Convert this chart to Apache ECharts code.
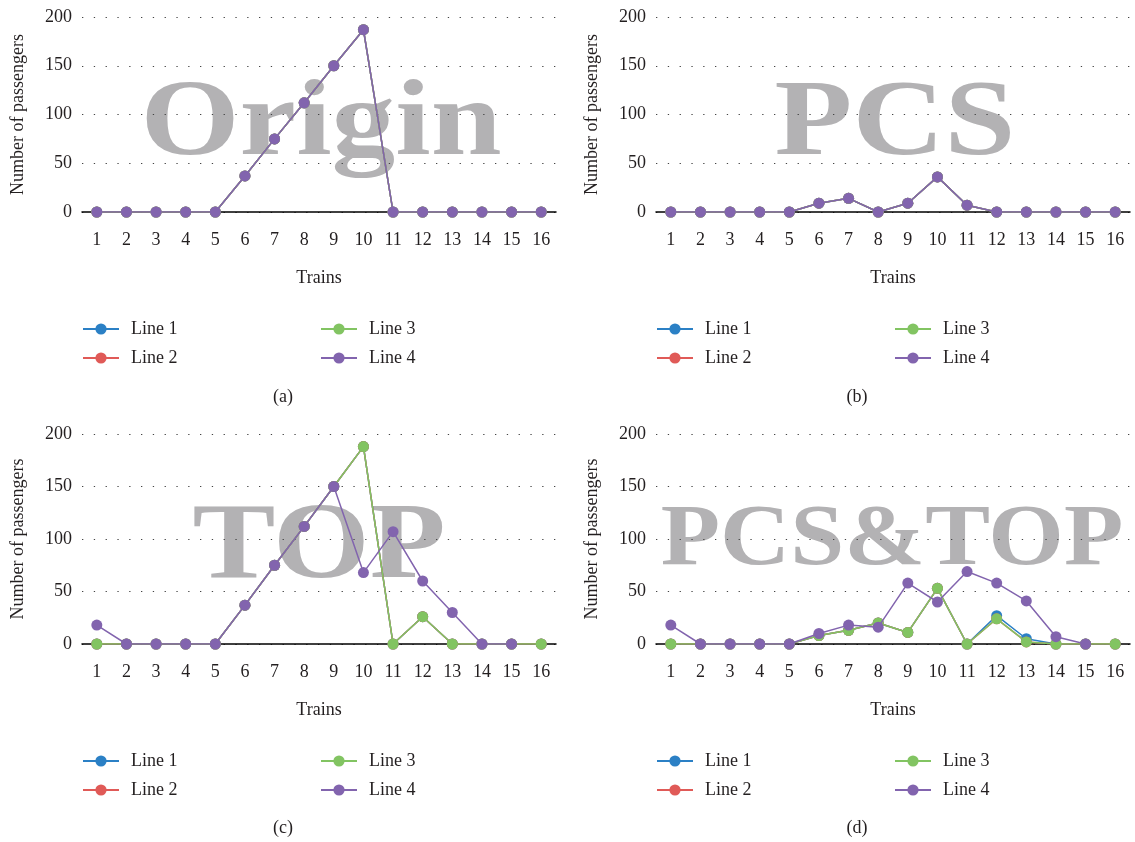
<!DOCTYPE html>
<html>
<head>
<meta charset="utf-8">
<script src="https://cdn.jsdelivr.net/npm/echarts@6/dist/echarts.min.js"></script>
<style>html,body{margin:0;padding:0;background:#fff;}#c{width:1135px;height:842px;}</style>
</head>
<body>
<div id="c"></div>
<script>
// ---- data ----
const categories = ['1','2','3','4','5','6','7','8','9','10','11','12','13','14','15','16'];
const seriesNames = ['Line 1','Line 2','Line 3','Line 4'];
const yTicks = [0, 50, 100, 150, 200];

// (a) Origin
const originLine1 = [0,0,0,0,0,37,75,112,150,187,0,0,0,0,0,0];
const originLine2 = [0,0,0,0,0,37,75,112,150,187,0,0,0,0,0,0];
const originLine3 = [0,0,0,0,0,37,75,112,150,187,0,0,0,0,0,0];
const originLine4 = [0,0,0,0,0,37,75,112,150,187,0,0,0,0,0,0];
// (b) PCS
const pcsLine1 = [0,0,0,0,0,9,14,0,9,36,7,0,0,0,0,0];
const pcsLine2 = [0,0,0,0,0,9,14,0,9,36,7,0,0,0,0,0];
const pcsLine3 = [0,0,0,0,0,9,14,0,9,36,7,0,0,0,0,0];
const pcsLine4 = [0,0,0,0,0,9,14,0,9,36,7,0,0,0,0,0];
// (c) TOP
const topLine1 = [0,0,0,0,0,37,75,112,150,188,0,26,0,0,0,0];
const topLine2 = [0,0,0,0,0,37,75,112,150,188,0,26,0,0,0,0];
const topLine3 = [0,0,0,0,0,37,75,112,150,188,0,26,0,0,0,0];
const topLine4 = [18,0,0,0,0,37,75,112,150,68,107,60,30,0,0,null];
// (d) PCS&TOP
const bothLine1 = [0,0,0,0,0,8,13,20,11,53,0,27,5,0,0,0];
const bothLine2 = [0,0,0,0,0,8,13,20,11,53,0,24,2,0,0,0];
const bothLine3 = [0,0,0,0,0,8,13,20,11,53,0,24,2,0,0,0];
const bothLine4 = [18,0,0,0,0,10,18,16,58,40,69,58,41,7,0,null];

const panelTitles = ['Origin','PCS','TOP','PCS&TOP'];
const captions = ['(a)','(b)','(c)','(d)'];
const panelData = [
  [originLine1, originLine2, originLine3, originLine4],
  [pcsLine1, pcsLine2, pcsLine3, pcsLine4],
  [topLine1, topLine2, topLine3, topLine4],
  [bothLine1, bothLine2, bothLine3, bothLine4]
];

// ---- styling / layout ----
const colors = ['#2b80c5', '#e05a57', '#82c462', '#8264ae'];
const serif = '"Liberation Serif", "Times New Roman", serif';
const textColor = '#231f20';
const grids = [
  {left: 82, top: 17, width: 474, height: 195},
  {left: 656, top: 17, width: 474, height: 195},
  {left: 82, top: 434, width: 474, height: 210},
  {left: 656, top: 434, width: 474, height: 210}
];
const legendTops = [320, 320, 752, 752];
const captionY = [397, 397, 828, 828];
const wm = [
  {x: 321, y: 126, size: 108, sx: 1.18},
  {x: 895, y: 126, size: 108, sx: 1.18},
  {x: 319, y: 549, size: 108, sx: 1.15},
  {x: 892, y: 542, size: 86, sx: 1.13}
];

const chart = echarts.init(document.getElementById('c'), null, {renderer: 'canvas'});

const xAxes = [], yAxes = [], series = [], legends = [], graphics = [];
grids.forEach((g, i) => {
  xAxes.push({
    type: 'category', gridIndex: i, data: categories, boundaryGap: true,
    axisLine: {lineStyle: {color: '#000', width: 1.5}},
    axisTick: {show: false},
    axisLabel: {fontFamily: serif, fontSize: 18, color: textColor, margin: 19, interval: 0},
    name: 'Trains', nameLocation: 'middle', nameGap: 57,
    nameTextStyle: {fontFamily: serif, fontSize: 18, color: textColor}
  });
  yAxes.push({
    type: 'value', gridIndex: i, min: yTicks[0], max: yTicks[yTicks.length - 1], interval: 50,
    axisLine: {show: false}, axisTick: {show: false},
    axisLabel: {fontFamily: serif, fontSize: 18, color: textColor, margin: 10},
    splitLine: {show: true, lineStyle: {color: '#444', width: 1, type: [1.3, 10.5]}},
    name: 'Number of passengers', nameLocation: 'middle', nameGap: 55,
    nameTextStyle: {fontFamily: serif, fontSize: 18, color: textColor}
  });
  panelData[i].forEach((arr, k) => {
    series.push({
      type: 'line', name: seriesNames[k], xAxisIndex: i, yAxisIndex: i,
      data: arr, color: colors[k], symbol: 'circle', symbolSize: 11,
      lineStyle: {width: 1.5}, showSymbol: true, connectNulls: false,
      animation: false, z: 3 + k
    });
  });
  const legBase = {
    orient: 'vertical', top: legendTops[i], itemWidth: 36, itemHeight: 14, itemGap: 11,
    textStyle: {fontFamily: serif, fontSize: 18, color: textColor, padding: [0, 0, 0, 7]},
    padding: 0
  };
  legends.push(Object.assign({}, legBase, {left: g.left, data: ['Line 1', 'Line 2']}));
  legends.push(Object.assign({}, legBase, {left: g.left + 238, data: ['Line 3', 'Line 4']}));
  graphics.push({
    type: 'text', z: 0, silent: true, x: wm[i].x, y: wm[i].y, scaleX: wm[i].sx,
    style: {text: panelTitles[i], x: 0, y: 0, align: 'center', verticalAlign: 'middle',
      font: 'bold ' + wm[i].size + 'px ' + serif, fill: '#b3b2b4'}
  });
  graphics.push({
    type: 'text', z: 0, silent: true,
    style: {text: captions[i], x: g.left + g.width / 2 - 36, y: captionY[i], align: 'center', verticalAlign: 'middle',
      font: '18px ' + serif, fill: textColor}
  });
});

chart.setOption({
  animation: false,
  backgroundColor: '#fff',
  grid: grids,
  xAxis: xAxes,
  yAxis: yAxes,
  legend: legends,
  series: series,
  graphic: graphics
});
</script>
</body>
</html>
